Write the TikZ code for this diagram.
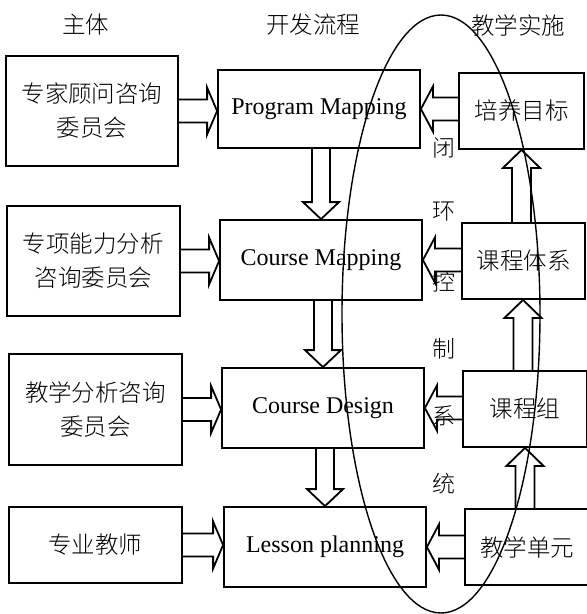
\documentclass[tikz,border=0pt]{standalone}
\usepackage{fontspec}
\setmainfont{Liberation Serif}
\newfontfamily\cjk{Noto Sans CJK SC}[UprightFont={* Light}]
\usetikzlibrary{calc,shapes.geometric}

\tikzset{
  box/.style={draw, line width=1.8pt, inner sep=0pt, align=center,
              font=\cjk\fontsize{23.5}{34}\selectfont},
  enbox/.style={box, font=\fontsize{24}{30}\selectfont},
  blockline/.style={draw, line width=1.8pt, line join=miter},
  head/.style={font=\cjk\fontsize{23.5}{28}\selectfont, inner sep=0pt},
  loopchar/.style={font=\cjk\fontsize{23}{28}\selectfont, inner sep=0pt},
}

% hollow block arrow pointing right: from #1.east to #2.west, at the height of #1
\newcommand{\blockright}[2]{%
  \draw[blockline] let \p1=(#1.east), \p2=(#2.west) in
    (\x1,\y1+11.5) -- (\x2-10,\y1+11.5) -- (\x2-10,\y1+23.5) -- (\x2,\y1)
    -- (\x2-10,\y1-23.5) -- (\x2-10,\y1-11.5) -- (\x1,\y1-11.5);}
% hollow block arrow pointing left: from #1.west to #2.east, at the height of #2
\newcommand{\blockleft}[2]{%
  \draw[blockline] let \p1=(#1.west), \p2=(#2.east) in
    (\x1,\y2+11.5) -- (\x2+12,\y2+11.5) -- (\x2+12,\y2+22.5) -- (\x2,\y2)
    -- (\x2+12,\y2-22.5) -- (\x2+12,\y2-11.5) -- (\x1,\y2-11.5);}
% hollow block arrow pointing down: from #1.south to #2.north
\newcommand{\blockdown}[2]{%
  \draw[blockline] let \p1=(#1.south), \p2=(#2.north) in
    (\x1+2-9,\y1) -- (\x1+2-9,\y2+17) -- (\x1+2-18,\y2+17) -- (\x1+2,\y2)
    -- (\x1+2+18,\y2+17) -- (\x1+2+9,\y2+17) -- (\x1+2+9,\y1);}
% hollow block arrow pointing up: from #1.north to #2.south
\newcommand{\blockup}[2]{%
  \draw[blockline] let \p1=(#1.north), \p2=(#2.south) in
    (\x1-2-9.5,\y1) -- (\x1-2-9.5,\y2-18) -- (\x1-2-18.5,\y2-18) -- (\x1-2,\y2)
    -- (\x1-2+18.5,\y2-18) -- (\x1-2+9.5,\y2-18) -- (\x1-2+9.5,\y1);}

\begin{document}
\begin{tikzpicture}[x=1pt, y=-1pt]
\useasboundingbox (0,0) rectangle (587,614);

% column headings
\node[head] (hA) at (86,25) {主体};
\node[head] (hB) at (313,25) {开发流程};
\node[head] (hC) at (518,25) {教学实施};

% committees
\node[box, minimum width=172pt, minimum height=110pt] (L1) at (92,111) {专家顾问咨询\\委员会};
\node[box, minimum width=173pt, minimum height=110pt] (L2) at (93.5,261) {专项能力分析\\咨询委员会};
\node[box, minimum width=173pt, minimum height=111pt] (L3) at (95.5,409.5) {教学分析咨询\\委员会};
\node[box, minimum width=173pt, minimum height=76pt] (L4) at (95.5,545) {专业教师};

% development process
\node[enbox, minimum width=202pt, minimum height=78pt] (M1) at (319,109) {Program Mapping};
\node[enbox, minimum width=202pt, minimum height=80pt] (M2) at (321,260) {Course Mapping};
\node[enbox, minimum width=202pt, minimum height=80pt] (M3) at (323,408) {Course Design};
\node[enbox, minimum width=202pt, minimum height=80pt] (M4) at (325,547) {Lesson planning};

% teaching practice
\node[box, minimum width=125pt, minimum height=76pt] (R1) at (521.5,111) {培养目标};
\node[box, minimum width=123pt, minimum height=76pt] (R2) at (523.5,261) {课程体系};
\node[box, minimum width=124pt, minimum height=76pt] (R3) at (525,409) {课程组};
\node[box, minimum width=124pt, minimum height=76pt] (R4) at (527,547) {教学单元};

% committees feed the process
\blockright{L1}{M1}
\blockright{L2}{M2}
\blockright{L3}{M3}
\blockright{L4}{M4}

% process chain
\blockdown{M1}{M2}
\blockdown{M2}{M3}
\blockdown{M3}{M4}

% practice feeds back into the process
\blockleft{R1}{M1}
\blockleft{R2}{M2}
\blockleft{R3}{M3}
\blockleft{R4}{M4}

% practice chain upwards
\blockup{R2}{R1}
\blockup{R3}{R2}
\blockup{R4}{R3}

% closed-loop control system
\node[draw, line width=1.4pt, ellipse, minimum width=198pt, minimum height=598pt, inner sep=0pt] (loop) at (441,314) {};
\node[loopchar] (c1) at (444,148) {闭};
\node[loopchar] (c2) at (444,212) {环};
\node[loopchar] (c3) at (444,282) {控};
\node[loopchar] (c4) at (444,349) {制};
\node[loopchar] (c5) at (444,416) {系};
\node[loopchar] (c6) at (444,484) {统};
\end{tikzpicture}
\end{document}
